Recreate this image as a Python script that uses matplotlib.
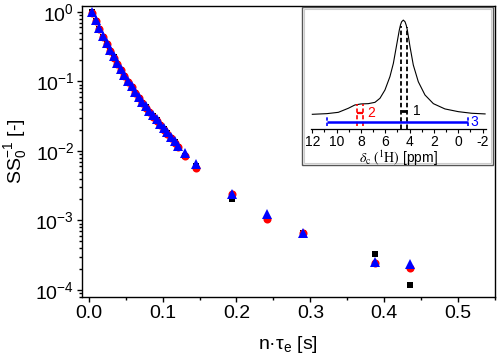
import matplotlib
matplotlib.use("Agg")
import matplotlib.pyplot as plt
from matplotlib.ticker import MultipleLocator, FormatStrFormatter, LogLocator, NullFormatter
from matplotlib.patches import Rectangle

plt.rcParams['font.family'] = ['Liberation Sans', 'DejaVu Sans']
plt.rcParams['mathtext.fontset'] = 'custom'
plt.rcParams['mathtext.rm'] = 'Liberation Sans'
plt.rcParams['mathtext.it'] = 'Liberation Sans:italic'
plt.rcParams['axes.unicode_minus'] = False

# ---- main data: n*tau_e [s] and S/S0 ----
x_vals = [0.00484, 0.00968, 0.01452, 0.01936, 0.0242, 0.02904, 0.03388, 0.03872,
          0.04356, 0.0484, 0.05324, 0.05808, 0.06292, 0.06776, 0.0726, 0.07744,
          0.08228, 0.08712, 0.09196, 0.0968, 0.10164, 0.10648, 0.11132, 0.11616,
          0.121, 0.1307, 0.1452, 0.1936, 0.242, 0.2904, 0.3872, 0.4356]

black_sq = [0.98, 0.74, 0.565, 0.44, 0.345, 0.276, 0.221, 0.178, 0.147, 0.120,
            0.099, 0.083, 0.069, 0.058, 0.049, 0.0425, 0.0366, 0.0316, 0.0274,
            0.0237, 0.0205, 0.0178, 0.0154, 0.0133, 0.0113, 0.0085, 0.0060,
            0.00206, 0.00110, 0.00066, 0.00033, 0.000116]

red_circ = [0.97, 0.73, 0.56, 0.435, 0.342, 0.273, 0.219, 0.176, 0.145, 0.118,
            0.098, 0.082, 0.068, 0.057, 0.0485, 0.042, 0.0362, 0.0312, 0.027,
            0.0234, 0.0202, 0.0176, 0.0152, 0.0131, 0.0112, 0.0085, 0.0057,
            0.0024, 0.00105, 0.00066, 0.000243, 0.000206]

blue_tri = [1.0, 0.76, 0.58, 0.45, 0.355, 0.285, 0.228, 0.183, 0.150, 0.123,
            0.102, 0.085, 0.071, 0.060, 0.051, 0.044, 0.038, 0.0328, 0.0284,
            0.0246, 0.0213, 0.0185, 0.0160, 0.0138, 0.0118, 0.0093, 0.0064,
            0.00238, 0.00123, 0.000654, 0.000253, 0.000235]

# ---- inset spectrum: chemical shift [ppm] and normalized intensity ----
ppm = [12.0, 10.8, 9.86, 9.04, 8.5, 8.0, 7.4, 6.85, 6.44, 6.03, 5.62, 5.34, 5.07,
       4.85, 4.75, 4.66, 4.52, 4.38, 4.28, 4.19, 3.97, 3.70, 3.29, 2.74, 2.05,
       1.1, 0.0, -1.1, -2.2]
intensity = [0.0, 0.007, 0.021, 0.064, 0.099, 0.110, 0.113, 0.127, 0.170, 0.258,
             0.400, 0.540, 0.735, 0.894, 0.950, 0.982, 1.0, 0.982, 0.945, 0.894,
             0.717, 0.523, 0.346, 0.205, 0.113, 0.057, 0.028, 0.011, 0.004]

region1 = [4.7, 4.25]
region2 = [8.3, 7.85]
region3 = [10.8, -0.8]
inset_ticks = [12, 10, 8, 6, 4, 2, 0, -2]

fig = plt.figure(figsize=(4.98, 3.57), dpi=100)
ax = fig.add_axes([0.164, 0.169, 0.830, 0.814])

ax.plot(x_vals, black_sq, 's', color='black', ms=4.8, mew=0, zorder=3)
ax.plot(x_vals, red_circ, 'o', color='red', ms=5.8, mew=0, zorder=4)
ax.plot(x_vals, blue_tri, '^', color='blue', ms=6.8, mew=0, zorder=5)

ax.set_yscale('log')
ax.set_xlim(-0.0095, 0.55)
ax.set_ylim(8.0e-5, 1.21)
ax.xaxis.set_major_locator(MultipleLocator(0.1))
ax.xaxis.set_minor_locator(MultipleLocator(0.05))
ax.xaxis.set_major_formatter(FormatStrFormatter('%.1f'))
ax.yaxis.set_major_locator(LogLocator(base=10, numticks=10))
ax.yaxis.set_minor_locator(LogLocator(base=10, subs=range(2, 10), numticks=20))
ax.yaxis.set_minor_formatter(NullFormatter())
ax.tick_params(which='both', direction='out', width=1.0, top=False, right=False)
ax.tick_params(which='major', length=3.8, labelsize=14, pad=2)
ax.tick_params(which='minor', length=2.2)
ax.tick_params(axis='y', which='major', pad=1.5)
for s in ax.spines.values():
    s.set_linewidth(1.0)

ax.set_xlabel('n·τ$_\\mathregular{e}$ [s]', fontsize=14, va='top')
ax.xaxis.set_label_coords(0.5, -0.128)
ax.set_ylabel('SS$_\\mathregular{0}^\\mathregular{-1}$ [-]', fontsize=14)
ax.yaxis.set_label_coords(-0.128, 0.5)

# ---- inset frame ----
fx0, fy0 = 301.5 / 498, 1 - 165 / 357
fw, fh = 191.2 / 498, 158 / 357
fig.patches.append(Rectangle((fx0, fy0), fw, fh, transform=fig.transFigure,
                             fill=True, facecolor='white', edgecolor='#555555',
                             lw=1.0, zorder=10))
fig.patches.append(Rectangle((fx0 + 2 / 498, fy0 + 2 / 357), fw - 4 / 498, fh - 4 / 357,
                             transform=fig.transFigure, fill=False,
                             edgecolor='#cccccc', lw=0.8, zorder=10))

iax = fig.add_axes([311.1 / 498, 1 - 129 / 357, 175.2 / 498, 119 / 357], zorder=11)
iax.patch.set_alpha(0)
iax.plot(ppm, intensity, color='black', lw=0.8)
iax.set_xlim(12.1, -2.3)
iax.set_ylim(-0.156, 1.107)
for k in ['top', 'left', 'right']:
    iax.spines[k].set_visible(False)
iax.spines['bottom'].set_linewidth(0.9)
iax.set_yticks([])
iax.set_xticks(inset_ticks)
iax.xaxis.set_minor_locator(MultipleLocator(1))
iax.tick_params(axis='x', which='both', direction='out', width=0.8, labelsize=10, pad=1)
iax.tick_params(axis='x', which='major', length=3)
iax.tick_params(axis='x', which='minor', length=1.8)

# region 1 (black)
iax.vlines(region1, -0.156, [0.94, 0.93], colors='black', linestyles=(0, (2.5, 1.5)), lw=1.3)
iax.hlines(0.03, region1[0], region1[1], colors='black', lw=2.0)
iax.text(3.75, 0.03, '1', color='black', fontsize=10, va='center', ha='left')
# region 2 (red)
iax.vlines(region2, -0.12, [0.105, 0.112], colors='red', linestyles=(0, (2.5, 1.5)), lw=1.2)
iax.hlines(0.01, region2[0], region2[1], colors='red', lw=1.6)
iax.text(7.45, 0.01, '2', color='red', fontsize=10, va='center', ha='left')
# region 3 (blue)
iax.vlines(region3, -0.125, -0.03, colors='blue', linestyles=(0, (2.0, 1.2)), lw=1.2)
iax.hlines(-0.078, region3[0], region3[1], colors='blue', lw=1.8)
iax.text(-1.0, -0.078, '3', color='blue', fontsize=10, va='center', ha='left')

iax.set_xlabel(r'$\delta_\mathrm{c}\ (^1\mathrm{H})$ [ppm]', fontsize=10, labelpad=0,
               math_fontfamily='stix')

fig.savefig('out.png', dpi=100)
